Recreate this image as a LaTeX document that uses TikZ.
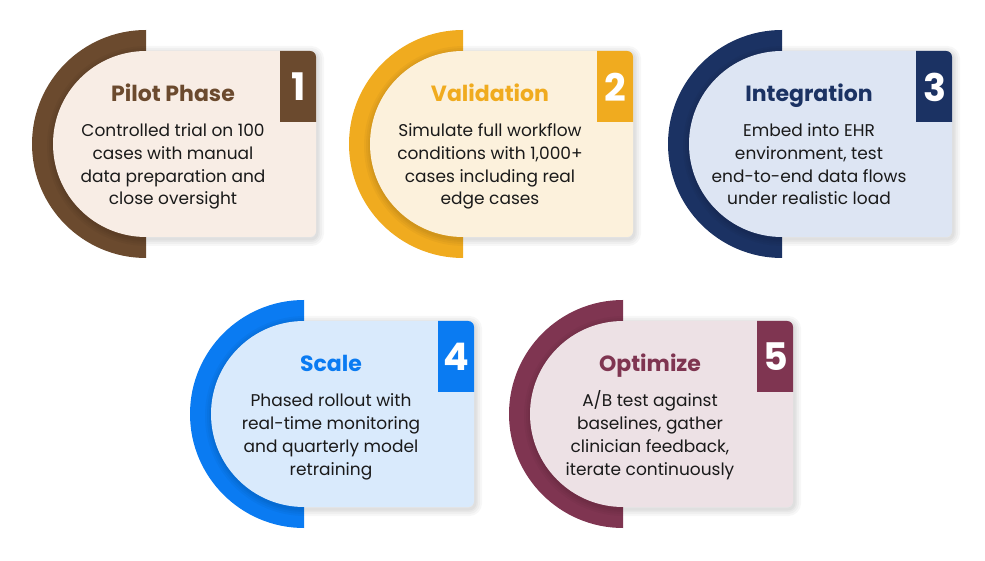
\documentclass[tikz,border=0pt]{standalone}
\usepackage{fontspec}
\setmainfont{Poppins}
\definecolor{cA}{HTML}{6B4A2E}\definecolor{fA}{HTML}{F8EDE5}
\definecolor{cB}{HTML}{F0AB1F}\definecolor{fB}{HTML}{FCF1DC}
\definecolor{cC}{HTML}{1B3263}\definecolor{fC}{HTML}{DDE5F3}
\definecolor{cD}{HTML}{0A7BF2}\definecolor{fD}{HTML}{D9EAFC}
\definecolor{cE}{HTML}{7F3551}\definecolor{fE}{HTML}{EDE1E5}
\definecolor{bodytext}{HTML}{1A1A1A}
\tikzset{
  titletext/.style={anchor=base,font=\fontsize{22}{26}\selectfont\bfseries,inner sep=0pt},
  bodytxt/.style={anchor=base,align=center,text=bodytext,font=\fontsize{17}{22.8}\selectfont,inner sep=0pt},
  numtext/.style={anchor=center,text=white,font=\fontsize{38}{40}\selectfont\bfseries,inner sep=0pt},
  softshadow/.style={draw=black,line width=#1,draw opacity=0.03,fill=none}
}
% #1 x of arc line, #2 Y centre, #3 dark colour, #4 light colour, #5 number, #6 title, #7 body, #8 name
\newcommand\cardpath[2]{(#1,#2+93) arc[start angle=90,end angle=270,radius=93]
     -- (#1+100,#2-93) [rounded corners=6] -- (#1+170,#2-93) -- (#1+170,#2+93) -- (#1+100,#2+93) [sharp corners] -- cycle}
\newcommand\phasecard[8]{%
  \fill[#3] (#1,#2+114) arc[start angle=90,end angle=270,radius=114] -- cycle;
  \begin{scope}[xshift=1,yshift=-2]
    \foreach \w in {14,10,6,3} {\path[softshadow=\w] \cardpath{#1}{#2};}
  \end{scope}
  \path[fill=#4] \cardpath{#1}{#2};
  \begin{scope}
    \clip \cardpath{#1}{#2};
    \fill[#3] (#1+134,#2+22) rectangle (#1+172,#2+95);
  \end{scope}
  \node[numtext] (#8num) at (#1+152.5,#2+57) {#5};
  \node[titletext,text=#3] (#8title) at (#1+27,#2+42) {#6};
  \node[bodytxt] (#8body) at (#1+27,#2-61) {#7};
}
\begin{document}
\begin{tikzpicture}[x=1pt,y=1pt]
\fill[white] (0,0) rectangle (985,560);
\useasboundingbox (0,0) rectangle (985,560);
\phasecard{146}{416}{cA}{fA}{1}{Pilot Phase}{Controlled trial on 100\\cases with manual\\data preparation and\\close oversight}{p1}
\phasecard{463}{416}{cB}{fB}{2}{Validation}{Simulate full workflow\\conditions with 1,000+\\cases including real\\edge cases}{p2}
\phasecard{782}{416}{cC}{fC}{3}{Integration}{Embed into EHR\\environment, test\\end-to-end data flows\\under realistic load}{p3}
\phasecard{304}{146}{cD}{fD}{4}{Scale}{Phased rollout with\\real-time monitoring\\and quarterly model\\retraining}{p4}
\phasecard{623}{146}{cE}{fE}{5}{Optimize}{A/B test against\\baselines, gather\\clinician feedback,\\iterate continuously}{p5}
\end{tikzpicture}
\end{document}
